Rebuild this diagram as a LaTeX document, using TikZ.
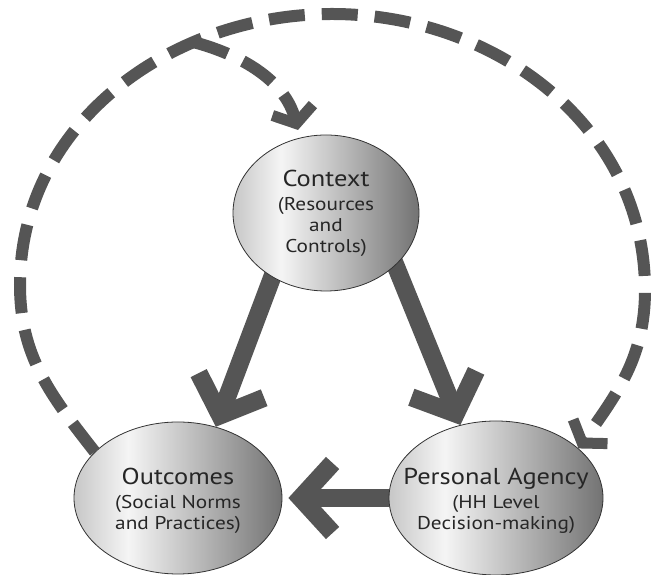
\documentclass[tikz,border=0pt]{standalone}
\usepackage{fontspec}
\setsansfont[FakeStretch=1.15]{PT Sans}
\usetikzlibrary{arrows.meta,shapes.geometric,backgrounds}

\definecolor{flowgray}{HTML}{555555}
\pgfdeclarehorizontalshading{ovalshade}{100bp}{color(0bp)=(black!22); color(25bp)=(black!22); color(38bp)=(black!4); color(75bp)=(black!55); color(100bp)=(black!55)}
\newcommand{\headfont}{\fontsize{23}{24}\selectfont}

\tikzset{
  oval/.style={ellipse, draw=black!80, line width=0.8pt, shading=ovalshade, inner sep=0pt},
  ovaltext/.style={font=\sffamily\fontsize{18.5}{21}\selectfont, text=black!85, align=center, inner sep=0pt},
  flow/.style={draw=flowgray, line width=18pt, -{Straight Barb[length=32pt, width=70pt, line width=18pt]}},
  dashflow/.style={draw=flowgray, line width=12pt, dash pattern=on 36pt off 17pt,
    -{Straight Barb[length=14pt, width=42pt, line width=11pt]}}
}

\begin{document}
\begin{tikzpicture}[x=1pt, y=1pt]
\useasboundingbox (0,0) rectangle (651,575);

% the three ovals
\node[oval, minimum width=186pt, minimum height=156pt] (ctx) at (326,362) {};
\node[oval, minimum width=208pt, minimum height=152pt] (outc) at (178,77) {};
\node[oval, minimum width=214pt, minimum height=154pt] (pa) at (496,77) {};

\node[ovaltext] (ctx-text) at (ctx) {{\headfont Context}\\[3pt](Resources\\and\\Controls)};
\node[ovaltext] (outc-text) at ([yshift=-3pt]outc.center) {{\headfont Outcomes}\\[3pt](Social Norms\\and Practices)};
\node[ovaltext] (pa-text) at ([yshift=-3pt]pa.center) {{\headfont Personal Agency}\\[3pt](HH Level\\Decision-making)};

% solid arrows run under the ovals
\begin{scope}[on background layer]
  \draw[flow, shorten <=-14pt] (ctx.230) -- (outc.62);
  \draw[flow, shorten <=-14pt] (ctx.323) -- (pa.116);
  \draw[flow, shorten <=-14pt, shorten >=6pt] (pa.west) -- (outc.east);
\end{scope}

% feedback loop round the outside
\coordinate (lw) at (20,290);
\coordinate (tp) at (332,561);
\coordinate (re) at (645,285);
\draw[dashflow] (outc.151) to[out=128, in=-90] (lw)
  to[out=90, in=180] coordinate[pos=0.7] (fork) (tp)
  to[out=0, in=90] (re)
  to[out=-90, in=55] (pa.31);
\draw[dashflow, shorten >=8pt] (fork) to[out=-15, in=105] (ctx.109);
\end{tikzpicture}
\end{document}
